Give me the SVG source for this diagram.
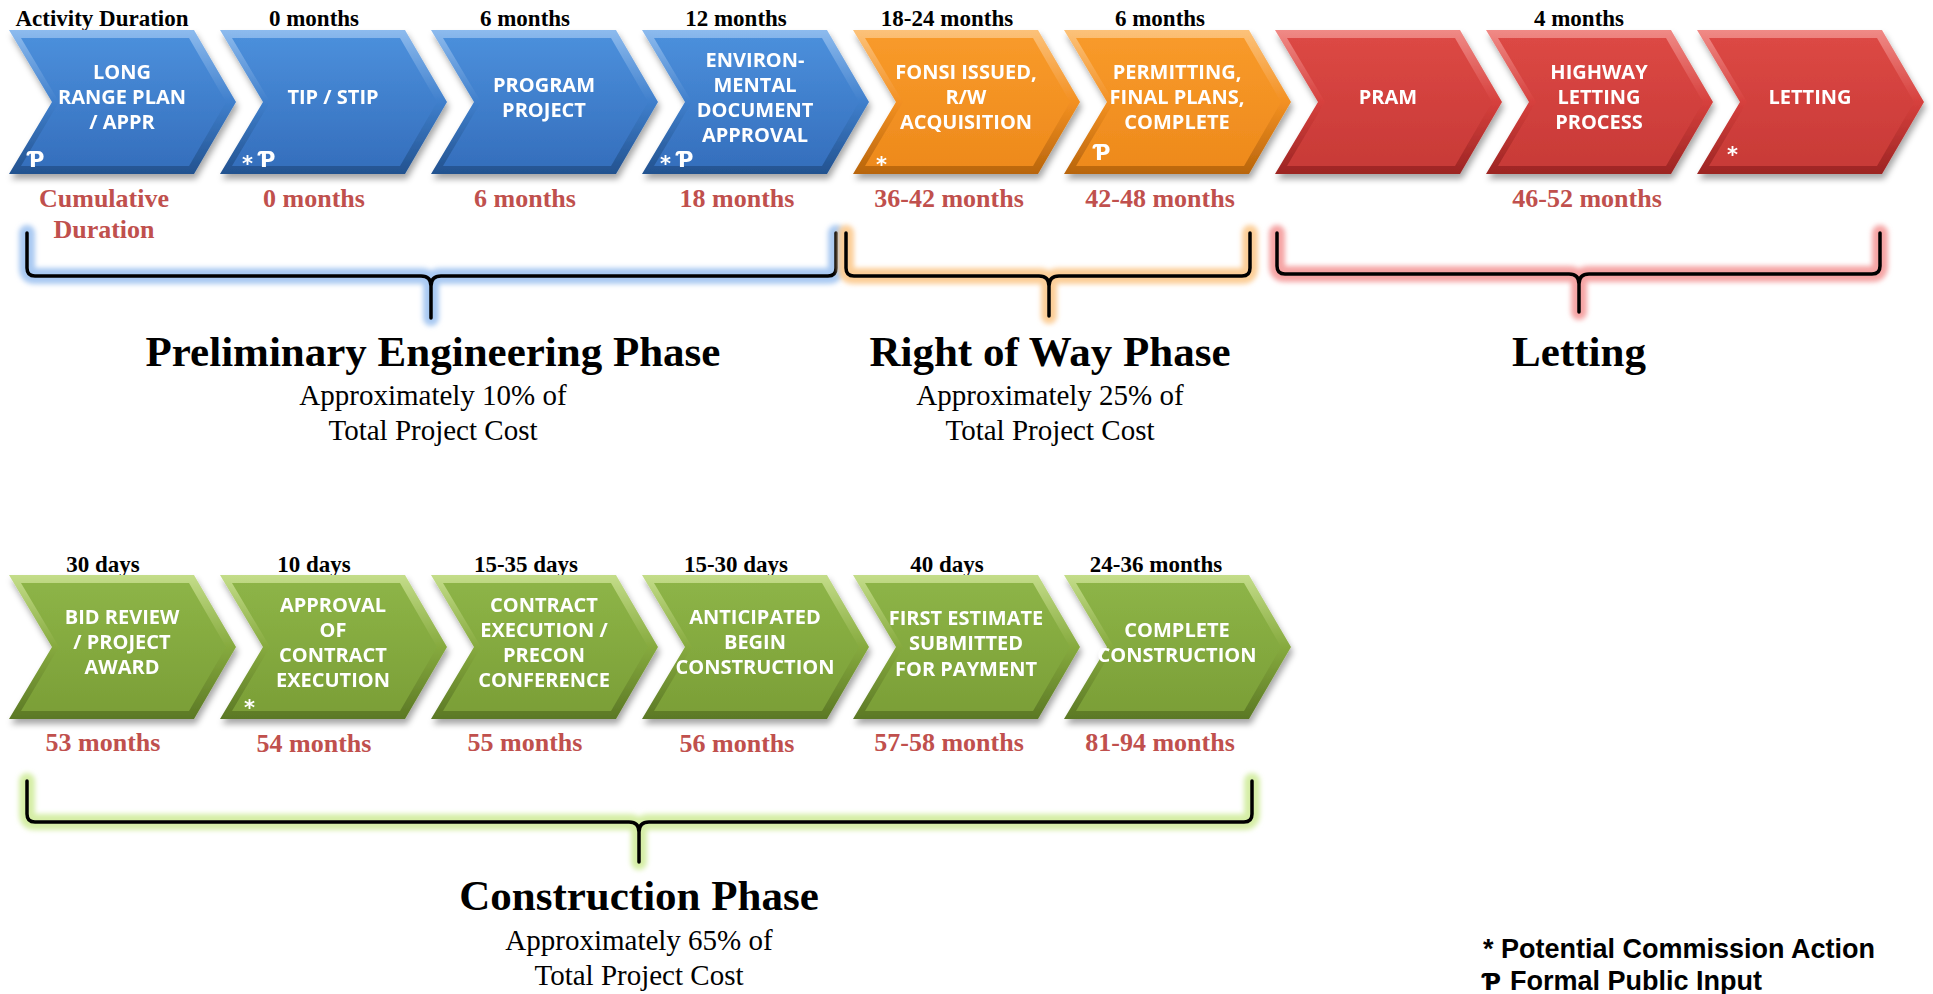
<svg xmlns="http://www.w3.org/2000/svg" width="1933" height="994" viewBox="0 0 1933 994">
<defs>
<style>
.ct{font-family:"Open Sans","Liberation Sans",sans-serif;font-weight:700;font-size:20px;fill:#fff;text-anchor:middle}
.mk{font-family:"DejaVu Sans","Liberation Sans",sans-serif;font-weight:700;font-size:21px;fill:#fff}
.dur{font-family:"Liberation Serif",serif;font-weight:700;font-size:23px;fill:#000;text-anchor:middle}
.cum{font-family:"Liberation Serif",serif;font-weight:700;font-size:26px;fill:#c0504d;text-anchor:middle}
.ttl{font-family:"Liberation Serif",serif;font-weight:700;font-size:43px;fill:#000;text-anchor:middle}
.sub{font-family:"Liberation Serif",serif;font-size:29px;fill:#000;text-anchor:middle}
.leg{font-family:"Liberation Sans",Arial,sans-serif;font-weight:700;font-size:27px;fill:#000}
.br{fill:none;stroke:#000;stroke-width:3.5;stroke-linecap:round;stroke-linejoin:round}
.gl{fill:none;stroke-width:16;stroke-linecap:round;stroke-linejoin:round;filter:url(#blur)}
</style>
<filter id="shadow" x="-10%" y="-10%" width="125%" height="135%">
<feDropShadow dx="2" dy="5" stdDeviation="3" flood-color="#000" flood-opacity="0.35"/>
</filter>
<filter id="blur" x="-5%" y="-30%" width="110%" height="160%">
<feGaussianBlur stdDeviation="2.5"/>
</filter>
<linearGradient id="bE" x1="0" y1="0" x2="0" y2="1"><stop offset="0" stop-color="#8dbbee"/><stop offset="0.5" stop-color="#3f7fcc"/><stop offset="1" stop-color="#23528f"/></linearGradient>
<linearGradient id="bF" x1="0" y1="0" x2="0" y2="1"><stop offset="0" stop-color="#4b8fdb"/><stop offset="1" stop-color="#356fbd"/></linearGradient>
<linearGradient id="oE" x1="0" y1="0" x2="0" y2="1"><stop offset="0" stop-color="#fcc27a"/><stop offset="0.5" stop-color="#f39022"/><stop offset="1" stop-color="#b8650c"/></linearGradient>
<linearGradient id="oF" x1="0" y1="0" x2="0" y2="1"><stop offset="0" stop-color="#f89a2a"/><stop offset="1" stop-color="#ee8a1c"/></linearGradient>
<linearGradient id="rE" x1="0" y1="0" x2="0" y2="1"><stop offset="0" stop-color="#f08a86"/><stop offset="0.5" stop-color="#d6403d"/><stop offset="1" stop-color="#9c2523"/></linearGradient>
<linearGradient id="rF" x1="0" y1="0" x2="0" y2="1"><stop offset="0" stop-color="#dc4844"/><stop offset="1" stop-color="#c83a37"/></linearGradient>
<linearGradient id="gE" x1="0" y1="0" x2="0" y2="1"><stop offset="0" stop-color="#c4dd8a"/><stop offset="0.5" stop-color="#86aa3e"/><stop offset="1" stop-color="#5b7825"/></linearGradient>
<linearGradient id="gF" x1="0" y1="0" x2="0" y2="1"><stop offset="0" stop-color="#8db447"/><stop offset="1" stop-color="#7b9f37"/></linearGradient>
<polygon id="chO" points="0,0 185,0 227,72 185,144 0,144 43,72"/>
<polygon id="chI" points="12,8 180,8 217,72 180,136 12,136 50,72"/>
</defs>
<rect width="1933" height="994" fill="#fff"/>

<!-- duration labels (row 1) -->
<g id="labels-top">
<text class="dur" x="102" y="26">Activity Duration</text>
<text class="dur" x="314" y="26">0 months</text>
<text class="dur" x="525" y="26">6 months</text>
<text class="dur" x="736" y="26">12 months</text>
<text class="dur" x="947" y="26">18-24 months</text>
<text class="dur" x="1160" y="26">6 months</text>
<text class="dur" x="1579" y="26">4 months</text>
<text class="cum" x="104" y="207">Cumulative</text>
<text class="cum" x="104" y="238">Duration</text>
<text class="cum" x="314" y="207">0 months</text>
<text class="cum" x="525" y="207">6 months</text>
<text class="cum" x="737" y="207">18 months</text>
<text class="cum" x="949" y="207">36-42 months</text>
<text class="cum" x="1160" y="207">42-48 months</text>
<text class="cum" x="1587" y="207">46-52 months</text>
</g>

<g id="n1" transform="translate(9,30)" filter="url(#shadow)"><use href="#chO" fill="url(#bE)"/><use href="#chI" fill="url(#bF)"/>
<text class="ct" x="113" y="49">LONG</text><text class="ct" x="113" y="74">RANGE PLAN</text><text class="ct" x="113" y="99">/ APPR</text>
<text class="mk" x="19" y="137">Ƥ</text></g>
<g id="n2" transform="translate(220,30)" filter="url(#shadow)"><use href="#chO" fill="url(#bE)"/><use href="#chI" fill="url(#bF)"/>
<text class="ct" x="113" y="74">TIP / STIP</text>
<text class="mk" x="22" y="141" font-size="19">*</text><text class="mk" x="39" y="137">Ƥ</text></g>
<g id="n3" transform="translate(431,30)" filter="url(#shadow)"><use href="#chO" fill="url(#bE)"/><use href="#chI" fill="url(#bF)"/>
<text class="ct" x="113" y="61.5">PROGRAM</text><text class="ct" x="113" y="86.5">PROJECT</text></g>
<g id="n4" transform="translate(642,30)" filter="url(#shadow)"><use href="#chO" fill="url(#bE)"/><use href="#chI" fill="url(#bF)"/>
<text class="ct" x="113" y="36.5">ENVIRON-</text><text class="ct" x="113" y="61.5">MENTAL</text><text class="ct" x="113" y="86.5">DOCUMENT</text><text class="ct" x="113" y="111.5">APPROVAL</text>
<text class="mk" x="18" y="141" font-size="19">*</text><text class="mk" x="35" y="137">Ƥ</text></g>
<g id="n5" transform="translate(853,30)" filter="url(#shadow)"><use href="#chO" fill="url(#oE)"/><use href="#chI" fill="url(#oF)"/>
<text class="ct" x="113" y="49">FONSI ISSUED,</text><text class="ct" x="113" y="74">R/W</text><text class="ct" x="113" y="99">ACQUISITION</text>
<text class="mk" x="23" y="142" font-size="19">*</text></g>
<g id="n6" transform="translate(1064,30)" filter="url(#shadow)"><use href="#chO" fill="url(#oE)"/><use href="#chI" fill="url(#oF)"/>
<text class="ct" x="113" y="49">PERMITTING,</text><text class="ct" x="113" y="74">FINAL PLANS,</text><text class="ct" x="113" y="99">COMPLETE</text>
<text class="mk" x="30" y="130">Ƥ</text></g>
<g id="n7" transform="translate(1275,30)" filter="url(#shadow)"><use href="#chO" fill="url(#rE)"/><use href="#chI" fill="url(#rF)"/>
<text class="ct" x="113" y="74">PRAM</text></g>
<g id="n8" transform="translate(1486,30)" filter="url(#shadow)"><use href="#chO" fill="url(#rE)"/><use href="#chI" fill="url(#rF)"/>
<text class="ct" x="113" y="49">HIGHWAY</text><text class="ct" x="113" y="74">LETTING</text><text class="ct" x="113" y="99">PROCESS</text></g>
<g id="n9" transform="translate(1697,30)" filter="url(#shadow)"><use href="#chO" fill="url(#rE)"/><use href="#chI" fill="url(#rF)"/>
<text class="ct" x="113" y="74">LETTING</text>
<text class="mk" x="30" y="132" font-size="19">*</text></g>

<!-- row 2 labels -->
<g id="labels-bottom">
<text class="dur" x="103" y="572">30 days</text>
<text class="dur" x="314" y="572">10 days</text>
<text class="dur" x="526" y="572">15-35 days</text>
<text class="dur" x="736" y="572">15-30 days</text>
<text class="dur" x="947" y="572">40 days</text>
<text class="dur" x="1156" y="572">24-36 months</text>
<text class="cum" x="103" y="751">53 months</text>
<text class="cum" x="314" y="752">54 months</text>
<text class="cum" x="525" y="751">55 months</text>
<text class="cum" x="737" y="752">56 months</text>
<text class="cum" x="949" y="751">57-58 months</text>
<text class="cum" x="1160" y="751">81-94 months</text>
</g>

<g id="m1" transform="translate(9,575)" filter="url(#shadow)"><use href="#chO" fill="url(#gE)"/><use href="#chI" fill="url(#gF)"/>
<text class="ct" x="113" y="49">BID REVIEW</text><text class="ct" x="113" y="74">/ PROJECT</text><text class="ct" x="113" y="99">AWARD</text></g>
<g id="m2" transform="translate(220,575)" filter="url(#shadow)"><use href="#chO" fill="url(#gE)"/><use href="#chI" fill="url(#gF)"/>
<text class="ct" x="113" y="36.5">APPROVAL</text><text class="ct" x="113" y="61.5">OF</text><text class="ct" x="113" y="86.5">CONTRACT</text><text class="ct" x="113" y="111.5">EXECUTION</text>
<text class="mk" x="24" y="140" font-size="19">*</text></g>
<g id="m3" transform="translate(431,575)" filter="url(#shadow)"><use href="#chO" fill="url(#gE)"/><use href="#chI" fill="url(#gF)"/>
<text class="ct" x="113" y="36.5">CONTRACT</text><text class="ct" x="113" y="61.5">EXECUTION /</text><text class="ct" x="113" y="86.5">PRECON</text><text class="ct" x="113" y="111.5">CONFERENCE</text></g>
<g id="m4" transform="translate(642,575)" filter="url(#shadow)"><use href="#chO" fill="url(#gE)"/><use href="#chI" fill="url(#gF)"/>
<text class="ct" x="113" y="49">ANTICIPATED</text><text class="ct" x="113" y="74">BEGIN</text><text class="ct" x="113" y="99">CONSTRUCTION</text></g>
<g id="m5" transform="translate(853,575)" filter="url(#shadow)"><use href="#chO" fill="url(#gE)"/><use href="#chI" fill="url(#gF)"/>
<text class="ct" x="113" y="50">FIRST ESTIMATE</text><text class="ct" x="113" y="75">SUBMITTED</text><text class="ct" x="113" y="101">FOR PAYMENT</text></g>
<g id="m6" transform="translate(1064,575)" filter="url(#shadow)"><use href="#chO" fill="url(#gE)"/><use href="#chI" fill="url(#gF)"/>
<text class="ct" x="113" y="62">COMPLETE</text><text class="ct" x="113" y="87">CONSTRUCTION</text></g>

<!-- brackets -->
<g id="connectors">
<path class="gl" stroke="#a9c9f2" d="M27,233 L27,268 Q27,276 35,276 L421,276 Q431,276 431,286 L431,318 M431,286 Q431,276 441,276 L828,276 Q836,276 836,268 L836,233"/>
<path class="br" d="M27,233 L27,268 Q27,276 35,276 L421,276 Q431,276 431,286 L431,318 M431,286 Q431,276 441,276 L828,276 Q836,276 836,268 L836,233"/>
<path class="gl" stroke="#fcce97" d="M846,233 L846,268 Q846,276 854,276 L1039,276 Q1049,276 1049,286 L1049,316 M1049,286 Q1049,276 1059,276 L1242,276 Q1250,276 1250,268 L1250,233"/>
<path class="br" d="M846,233 L846,268 Q846,276 854,276 L1039,276 Q1049,276 1049,286 L1049,316 M1049,286 Q1049,276 1059,276 L1242,276 Q1250,276 1250,268 L1250,233"/>
<path class="gl" stroke="#f5a4a4" d="M1277,233 L1277,266 Q1277,274 1285,274 L1569,274 Q1579,274 1579,284 L1579,312 M1579,284 Q1579,274 1589,274 L1872,274 Q1880,274 1880,266 L1880,233"/>
<path class="br" d="M1277,233 L1277,266 Q1277,274 1285,274 L1569,274 Q1579,274 1579,284 L1579,312 M1579,284 Q1579,274 1589,274 L1872,274 Q1880,274 1880,266 L1880,233"/>
<path class="gl" stroke="#d5eea6" d="M27,781 L27,814 Q27,822 35,822 L629,822 Q639,822 639,832 L639,862 M639,832 Q639,822 649,822 L1244,822 Q1252,822 1252,814 L1252,781"/>
<path class="br" d="M27,781 L27,814 Q27,822 35,822 L629,822 Q639,822 639,832 L639,862 M639,832 Q639,822 649,822 L1244,822 Q1252,822 1252,814 L1252,781"/>
</g>

<g id="phases">
<text class="ttl" x="433" y="366">Preliminary Engineering Phase</text>
<text class="sub" x="433" y="405">Approximately 10% of</text>
<text class="sub" x="433" y="440">Total Project Cost</text>
<text class="ttl" x="1050" y="366">Right of Way Phase</text>
<text class="sub" x="1050" y="405">Approximately 25% of</text>
<text class="sub" x="1050" y="440">Total Project Cost</text>
<text class="ttl" x="1579" y="366">Letting</text>
<text class="ttl" x="639" y="910">Construction Phase</text>
<text class="sub" x="639" y="950">Approximately 65% of</text>
<text class="sub" x="639" y="985">Total Project Cost</text>
</g>

<g id="legend">
<text class="leg" x="1483" y="958">* Potential Commission Action</text>
<text class="leg" x="1483" y="990"><tspan font-family="DejaVu Sans" font-size="23">Ƥ</tspan><tspan x="1510">Formal Public Input</tspan></text>
</g>
</svg>
